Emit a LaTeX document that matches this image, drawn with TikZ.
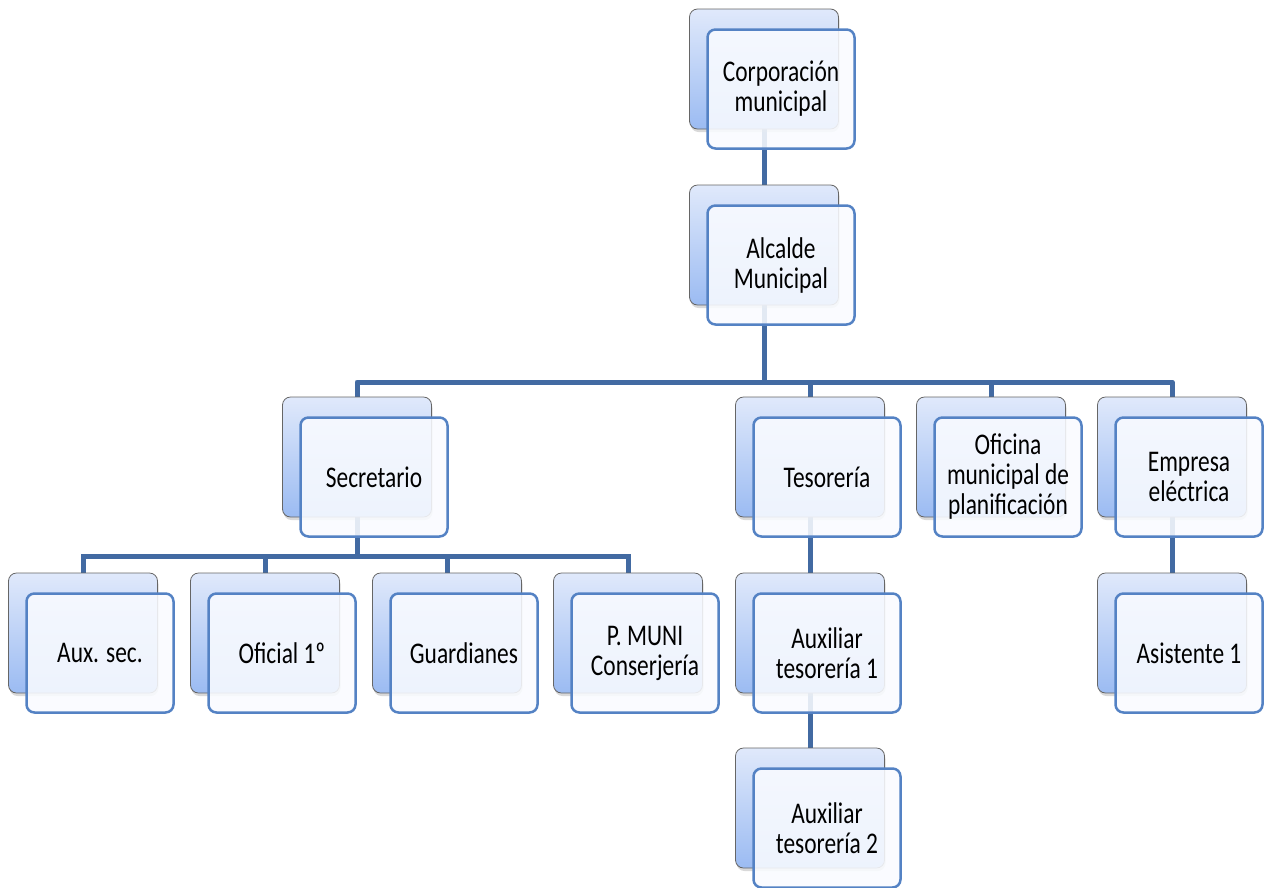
\documentclass[tikz,border=0pt]{standalone}
\usepackage{fontspec}
\setmainfont{Carlito}[FakeStretch=0.78]
\usepackage{tikz}
\usetikzlibrary{shadows}
\usetikzlibrary{backgrounds}
\usepackage{xcolor}
\definecolor{linea}{RGB}{66,106,162}
\definecolor{borde}{RGB}{84,130,196}
\definecolor{fondoarriba}{RGB}{224,233,251}
\definecolor{fondoabajo}{RGB}{155,187,242}
\definecolor{frente}{RGB}{249,251,255}

% un puesto: caja de fondo y caja de frente con el texto
\newcommand{\puesto}[4]{%
\node[caja fondo](#1-b) at (#2,#3) {};
\node[caja frente](#1) at (#2+17,#3+20) {#4};}

\begin{document}
\begin{tikzpicture}[x=1pt,y=-1pt,
caja fondo/.style={rectangle, rounded corners=8pt, minimum width=149pt, minimum height=120pt,
  draw=gray!80!black, line width=0.8pt, top color=fondoarriba, bottom color=fondoabajo,
  drop shadow={shadow xshift=1pt, shadow yshift=-3pt, opacity=0.3}},
caja frente/.style={rectangle, rounded corners=8pt, minimum width=147pt, minimum height=119pt,
  draw=borde, line width=2.5pt, fill=frente, fill opacity=0.88, text opacity=1,
  align=center, font=\fontsize{30}{30}\selectfont},
conector/.style={draw=linea, line width=5pt}
]
\useasboundingbox (0,0) rectangle (1267,887);
\puesto{corp}{764}{69}{Corporación\\municipal}
\puesto{alc}{764}{245}{Alcalde\\Municipal}
\puesto{sec}{357}{457}{Secretario}
\puesto{tes}{810}{457}{Tesorería}
\puesto{ofi}{991}{457}{Oficina\\municipal de\\planificación}
\puesto{emp}{1172}{457}{Empresa\\eléctrica}
\puesto{aux}{83}{633}{Aux. sec.}
\puesto{ofic}{265}{633}{Oficial 1º}
\puesto{gua}{447}{633}{Guardianes}
\puesto{pmuni}{628}{633}{P. MUNI\\Conserjería}
\puesto{at1}{810}{633}{Auxiliar\\tesorería 1}
\puesto{asis}{1172}{633}{Asistente 1}
\puesto{at2}{810}{808}{Auxiliar\\tesorería 2}
\coordinate (bus1) at (0,382);
\coordinate (bus2) at (0,556);
\begin{scope}[on background layer]
\draw[conector] (corp-b.south) -- (alc-b.north);
\draw[conector] (alc-b.south) -- (alc-b.south |- bus1);
\draw[conector, line join=round] (sec-b.north) -- (sec-b.north |- bus1) -- (emp-b.north |- bus1) -- (emp-b.north);
\foreach \n in {tes,ofi}
  \draw[conector] (\n-b.north) -- (\n-b.north |- bus1);
\draw[conector] (sec-b.south) -- (sec-b.south |- bus2);
\draw[conector] (aux-b.north) -- (aux-b.north |- bus2) -- (pmuni-b.north |- bus2) -- (pmuni-b.north);
\foreach \n in {ofic,gua}
  \draw[conector] (\n-b.north) -- (\n-b.north |- bus2);
\draw[conector] (tes-b.south) -- (at1-b.north);
\draw[conector] (at1-b.south) -- (at2-b.north);
\draw[conector] (emp-b.south) -- (asis-b.north);
\end{scope}
\end{tikzpicture}
\end{document}
